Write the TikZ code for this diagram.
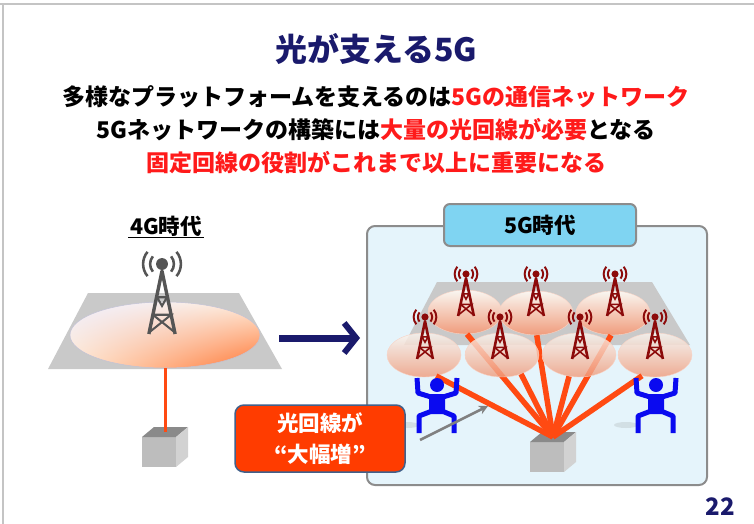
\documentclass[tikz,border=0pt]{standalone}
\usepackage{fontspec}
\setmainfont{Noto Sans CJK JP}
\usetikzlibrary{arrows.meta,positioning,shapes.geometric,shadings}
\definecolor{navy}{HTML}{1A1A6C}
\definecolor{hotRed}{HTML}{FF1A1A}
\definecolor{fiber}{HTML}{FF4A12}
\definecolor{frameGrey}{HTML}{C4C4C4}
\definecolor{plane}{HTML}{C9C9C9}
\definecolor{panelFill}{HTML}{E5F4FB}
\definecolor{panelLine}{HTML}{8C8C8C}
\definecolor{tabFill}{HTML}{7FD4F2}
\definecolor{calloutFill}{HTML}{FF3C00}
\definecolor{calloutLine}{HTML}{41608A}
\definecolor{towerGrey}{HTML}{555555}
\definecolor{towerRed}{HTML}{8C0A0A}
\definecolor{manBlue}{HTML}{0A0AF0}
\definecolor{cellTop}{HTML}{F9F6F1}
\definecolor{cellMid}{HTML}{F7E9DE}
\definecolor{cellBot}{HTML}{F09C7C}
\definecolor{boxTop}{HTML}{8A8A8A}
\definecolor{boxFront}{HTML}{BDBDBD}
\definecolor{boxSide}{HTML}{D2D2D2}

\tikzset{
  % radio mast, #1 = leg width
  pics/tower/.style={code={
    \draw[line width=#1, line join=round] (-7.5,0) -- (0,-36) -- (7.5,0);
    \draw[line width=0.6*#1] (-5.2,-11) -- (5.2,-11) -- (-6.6,-1.5)
      (-5.2,-11) -- (6.6,-1.5) (-2.8,-21) -- (2.8,-21) -- (0,-16) -- cycle;
    \fill (0,-40) circle (3.4);
    \draw[line width=0.75*#1] (0,-40) ++(140:6.8) arc[start angle=140, end angle=220, radius=6.8]
      (0,-40) ++(-40:6.8) arc[start angle=-40, end angle=40, radius=6.8]
      (0,-40) ++(140:10.8) arc[start angle=140, end angle=220, radius=10.8]
      (0,-40) ++(-40:10.8) arc[start angle=-40, end angle=40, radius=10.8];
  }},
  % base station box, origin = top left of the front face
  pics/hub/.style={code={
    \fill[boxFront] (0,0) rectangle (34,30);
    \fill[boxTop] (0,0) -- (12,-10) -- (46,-10) -- (34,0) -- cycle;
    \fill[boxSide] (34,0) -- (46,-10) -- (46,20) -- (34,30) -- cycle;
  }},
  % squatting figure, origin = head
  pics/lifter/.style={code={
    \fill[gray, opacity=0.18] (-30,40) ellipse (12 and 3);
    \fill (0,0) circle (7);
    \draw[line width=5, line join=round] (-20,-7) -- (-19,8) -- (-6,12)
      (20,-7) -- (19,8) -- (6,12);
    \fill[rounded corners=2] (-8,9) rectangle (8,29);
    \draw[line width=5, line join=round] (-5,26) -- (-18,31) -- (-18,48)
      (5,26) -- (17,31) -- (17,48);
  }}
}

\begin{document}
\begin{tikzpicture}[
  x=1pt, y=-1pt,
  frame/.style={draw=frameGrey, line width=2},
  lead/.style={font=\fontsize{23}{28}\selectfont\bfseries, inner sep=0},
  era/.style={font=\fontsize{21.5}{24}\selectfont\bfseries, inner sep=1.5},
  cell/.style={ellipse, minimum width=74, minimum height=44, inner sep=0,
    top color=cellTop, middle color=cellMid, bottom color=cellBot,
    draw=cellBot!45!white, line width=0.4},
  frontcell/.style={cell, fill opacity=0.82},
  fib/.style={fiber, line width=5.5, line cap=butt},
  panel/.style={draw=panelLine, fill=panelFill, line width=2, rounded corners=8,
    minimum width=340, minimum height=259},
  tab/.style={draw=panelLine, fill=tabFill, line width=2, rounded corners=6,
    minimum width=192, minimum height=42, font=\fontsize{21.5}{24}\selectfont\bfseries},
  callout/.style={draw=calloutLine, fill=calloutFill, line width=1.5, rounded corners=9,
    minimum width=170, minimum height=67, align=center, text=white,
    font=\fontsize{21.5}{31}\selectfont\bfseries},
]
\useasboundingbox (0,0) rectangle (754,524);
\draw[frame] (0,4) -- (754,4);
\draw[frame] (2.5,4) -- (2.5,524);

% heading
\node[font=\fontsize{32}{36}\selectfont\bfseries, text=navy] (title) at (376,49) {光が支える5G};
\node[lead] (lead1) at (376,97) {多様なプラットフォームを支えるのは\textcolor{hotRed}{5Gの通信ネットワーク}};
\node[lead] (lead2) at (376,130) {5Gネットワークの構築には\textcolor{hotRed}{大量の光回線が必要}となる};
\node[lead, text=hotRed] (lead3) at (376,163) {固定回線の役割がこれまで以上に重要になる};

% 4G side
\node[era] (era4g) at (166,226) {4G時代};
\draw[line width=1] (era4g.south west) -- (era4g.south east);
\fill[plane] (88,293) -- (239,293) -- (282,369) -- (48,369) -- cycle;
\node[ellipse, minimum width=190, minimum height=66, draw=blue!20!gray!40, line width=0.5,
  upper left=blue!6!white, upper right=orange!14!white,
  lower left=orange!18!white, lower right=orange!65!red!80] (cell4g) at (165,335) {};
\pic[scale=1.75, color=towerGrey] at (162,334) {tower=3.4};
\pic at (142,437) {hub};
\coordinate (hub4g) at (165,432);
\draw[fiber, line width=3] (cell4g.south) -- (hub4g);

% era arrow
\coordinate (stepFrom) at (279,338);
\coordinate (stepTo) at (360,338);
\draw[navy, line width=7, -{Straight Barb[length=12pt, width=30pt, line width=6pt]}] (stepFrom) -- (stepTo);

% 5G side
\node[panel] (era5g) at (537,355.5) {};
\node[tab] (tab5g) at ([xshift=3pt]era5g.north) {5G時代};
\fill[plane] (437,282) -- (652,282) -- (690,345) -- (404,345) -- cycle;
\node[cell] (cellB1) at (465,312) {};
\node[cell] (cellB2) at (536,313) {};
\node[cell] (cellB3) at (613,313) {};
\pic at (530,442) {hub};
\coordinate (hub5g) at (553,437);
\draw[fib] (hub5g) -- (cellB1.-85);
\draw[fib] (hub5g) -- (cellB2.-88);
\draw[fib] (hub5g) -- (cellB3.-95);
\node[frontcell] (cellF1) at (424,355) {};
\node[frontcell] (cellF2) at (502,355) {};
\node[frontcell] (cellF3) at (579,355) {};
\node[frontcell] (cellF4) at (655,355) {};
\draw[fib] (hub5g) -- (cellF1.-60);
\draw[fib] (hub5g) -- (cellF2.-45);
\draw[fib] (hub5g) -- (cellF3.-115);
\draw[fib] (hub5g) -- (cellF4.-122);
\foreach \x/\y in {466/316, 536/316, 615/316, 425/359, 500/359, 580/359, 655/359}
  \pic[scale=1.05, color=towerRed] at (\x,\y) {tower=2.6};
\pic[color=manBlue] at (437,385) {lifter};
\pic[color=manBlue] at (656,385) {lifter};
\coordinate (liftFrom) at (420,440);
\coordinate (liftTo) at (488,406);
\draw[gray, line width=2.5, -{Stealth[length=9pt, width=9pt]}] (liftFrom) -- (liftTo);

% callout
\node[callout] (surge) at (320,438.5) {光回線が\\“大幅増”};

% page number
\node[font=\fontsize{24}{28}\selectfont\bfseries, text=navy] (page) at (720,507) {22};
\end{tikzpicture}
\end{document}
